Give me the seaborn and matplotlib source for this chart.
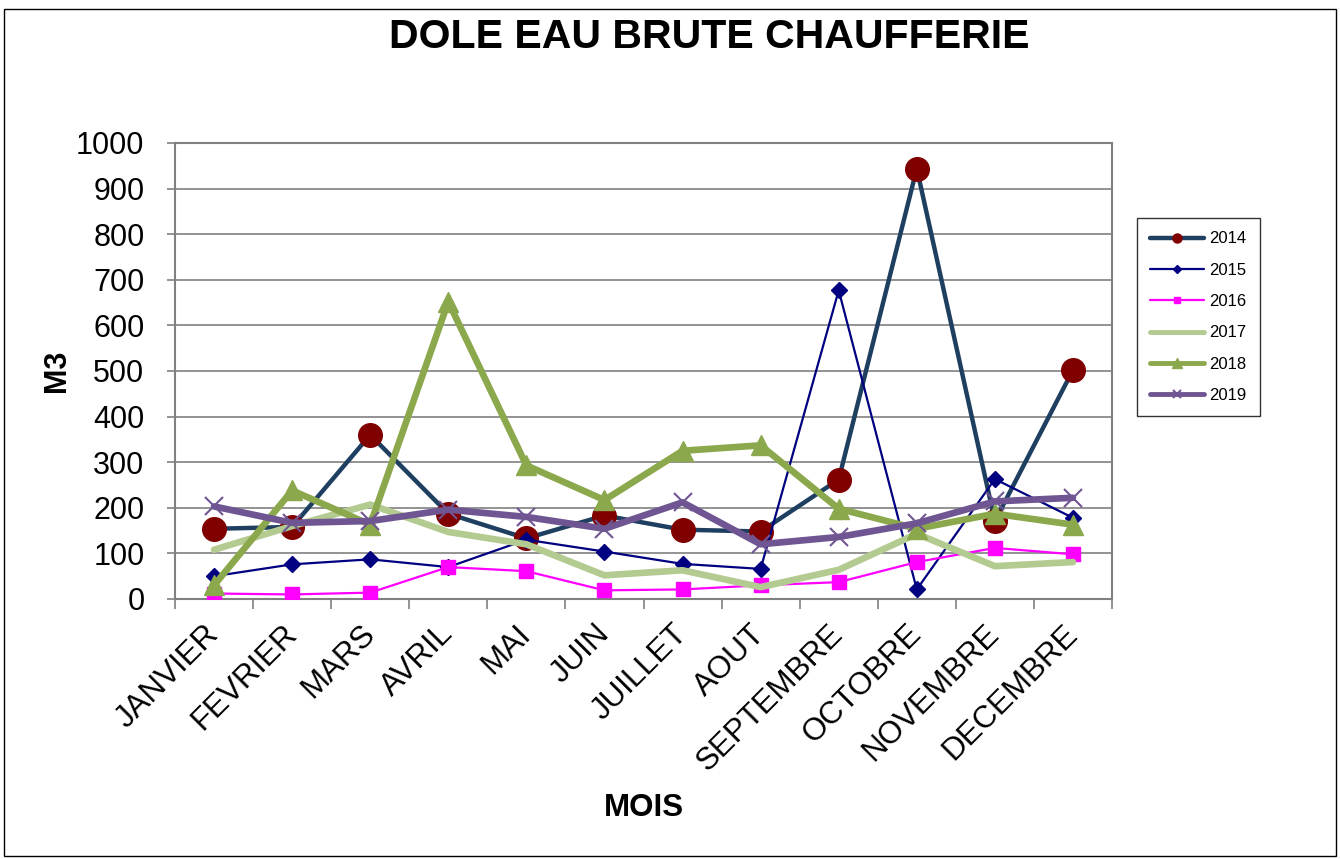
import matplotlib
matplotlib.use("Agg")
import matplotlib.pyplot as plt
from matplotlib.lines import Line2D
from matplotlib.patches import Rectangle
import seaborn as sns
import pandas as pd

MONTHS = ["JANVIER", "FEVRIER", "MARS", "AVRIL", "MAI", "JUIN", "JUILLET",
          "AOUT", "SEPTEMBRE", "OCTOBRE", "NOVEMBRE", "DECEMBRE"]

Y2014 = [154, 158, 360, 187, 133, 183, 152, 148, 262, 944, 171, 502]
Y2015 = [50, 76, 87, 70, 130, 104, 77, 66, 677, 21, 263, 178]
Y2016 = [12, 10, 14, 70, 61, 19, 21, 30, 37, 81, 112, 98]
Y2017 = [108, 160, 207, 147, 120, 52, 63, 26, 64, 143, 72, 81]
Y2018 = [30, 238, 163, 652, 293, 217, 325, 337, 198, 154, 187, 163]
Y2019 = [203, 167, 171, 196, 180, 154, 212, 120, 136, 166, 214, 222]

YEARS = ["2014", "2015", "2016", "2017", "2018", "2019"]
SERIES = [Y2014, Y2015, Y2016, Y2017, Y2018, Y2019]

rows = []
for year, values in zip(YEARS, SERIES):
    for i, v in enumerate(values):
        rows.append({"annee": year, "mois": i, "m3": v})
df = pd.DataFrame(rows)

STYLES = {
    "2014": dict(color="#1F3F60", lw=3.2, marker="o", ms=17, mfc="#800000", mec="#800000", mew=1),
    "2015": dict(color="#000080", lw=1.6, marker="D", ms=8, mfc="#000080", mec="#000080", mew=1),
    "2016": dict(color="#FF00FF", lw=1.6, marker="s", ms=10, mfc="#FF00FF", mec="#FF00FF", mew=1),
    "2017": dict(color="#B3CB91", lw=4.8, marker=None, ms=0, mfc="none", mec="none", mew=0),
    "2018": dict(color="#8BA84C", lw=4.8, marker="^", ms=15, mfc="#8BA84C", mec="#8BA84C", mew=1),
    "2019": dict(color="#6F5592", lw=4.8, marker="x", ms=13, mfc="#6F5592", mec="#6F5592", mew=1.5),
}

sns.set_style("white")
plt.rcParams["font.family"] = ["Liberation Sans", "DejaVu Sans"]
plt.rcParams["text.color"] = "black"
plt.rcParams["axes.labelcolor"] = "black"

fig = plt.figure(figsize=(13.4, 8.59), dpi=100)
ax = fig.add_axes([175 / 1340, 1 - 599 / 859, (1112 - 175) / 1340, (599 - 143) / 859])

for year in YEARS:
    st = STYLES[year]
    sub = df[df["annee"] == year]
    sns.lineplot(data=sub, x="mois", y="m3", ax=ax, color=st["color"], linewidth=st["lw"],
                 marker=st["marker"], markersize=st["ms"], markerfacecolor=st["mfc"],
                 markeredgecolor=st["mec"], markeredgewidth=st["mew"], legend=False,
                 zorder=3)

ax.set_xlim(-0.5, len(MONTHS) - 0.5)
ax.set_ylim(0, 1000)
ax.set_yticks(range(0, 1001, 100))
ax.tick_params(axis="y", labelsize=22, length=6, width=1.2, color="#808080",
               labelcolor="black", direction="out", left=True, pad=16)
ax.yaxis.grid(True, color="#808080", linewidth=1.2, zorder=0)
ax.set_axisbelow(True)

ax.set_xticks(range(len(MONTHS)))
ax.set_xticklabels(MONTHS, rotation=45, ha="right", va="center", rotation_mode="anchor",
                   fontsize=22.5, color="black")
ax.tick_params(axis="x", length=0, pad=22)
ax.set_xticks([i - 0.5 for i in range(len(MONTHS) + 1)], minor=True)
ax.tick_params(axis="x", which="minor", length=7, width=1.2, color="#808080", bottom=True, direction="out")

for side in ["left", "bottom", "top", "right"]:
    ax.spines[side].set_visible(True)
    ax.spines[side].set_color("#808080")
    ax.spines[side].set_linewidth(1.5)

ax.set_xlabel("MOIS", fontsize=22.5, fontweight="bold", labelpad=12)
ax.set_ylabel("M3", fontsize=22, fontweight="bold", labelpad=3)

fig.text(0.529, 0.957, "DOLE EAU BRUTE CHAUFFERIE", ha="center", va="center",
         fontsize=29.5, fontweight="bold")

handles = []
for year in YEARS:
    st = STYLES[year]
    handles.append(Line2D([0], [0], color=st["color"], linewidth=min(st["lw"], 3.5),
                          marker=st["marker"], markersize=min(st["ms"] * 0.45, 6.5) if st["marker"] else 0,
                          markerfacecolor=st["mfc"], markeredgecolor=st["mec"],
                          markeredgewidth=st["mew"], label=year))
leg = fig.legend(handles=handles, loc="upper left", bbox_to_anchor=(1137 / 1340, 1 - 218 / 859),
                 borderaxespad=0, fontsize=12, frameon=True, fancybox=False, handlelength=3.2,
                 labelspacing=0.98, borderpad=0.8, handletextpad=0.35)
leg.get_frame().set_edgecolor("black")
leg.get_frame().set_linewidth(1.0)

fig.patches.append(Rectangle((0.003, 0.003), 0.994, 0.987, transform=fig.transFigure,
                             fill=False, edgecolor="black", linewidth=1.0))

fig.savefig("out.png", dpi=100)
